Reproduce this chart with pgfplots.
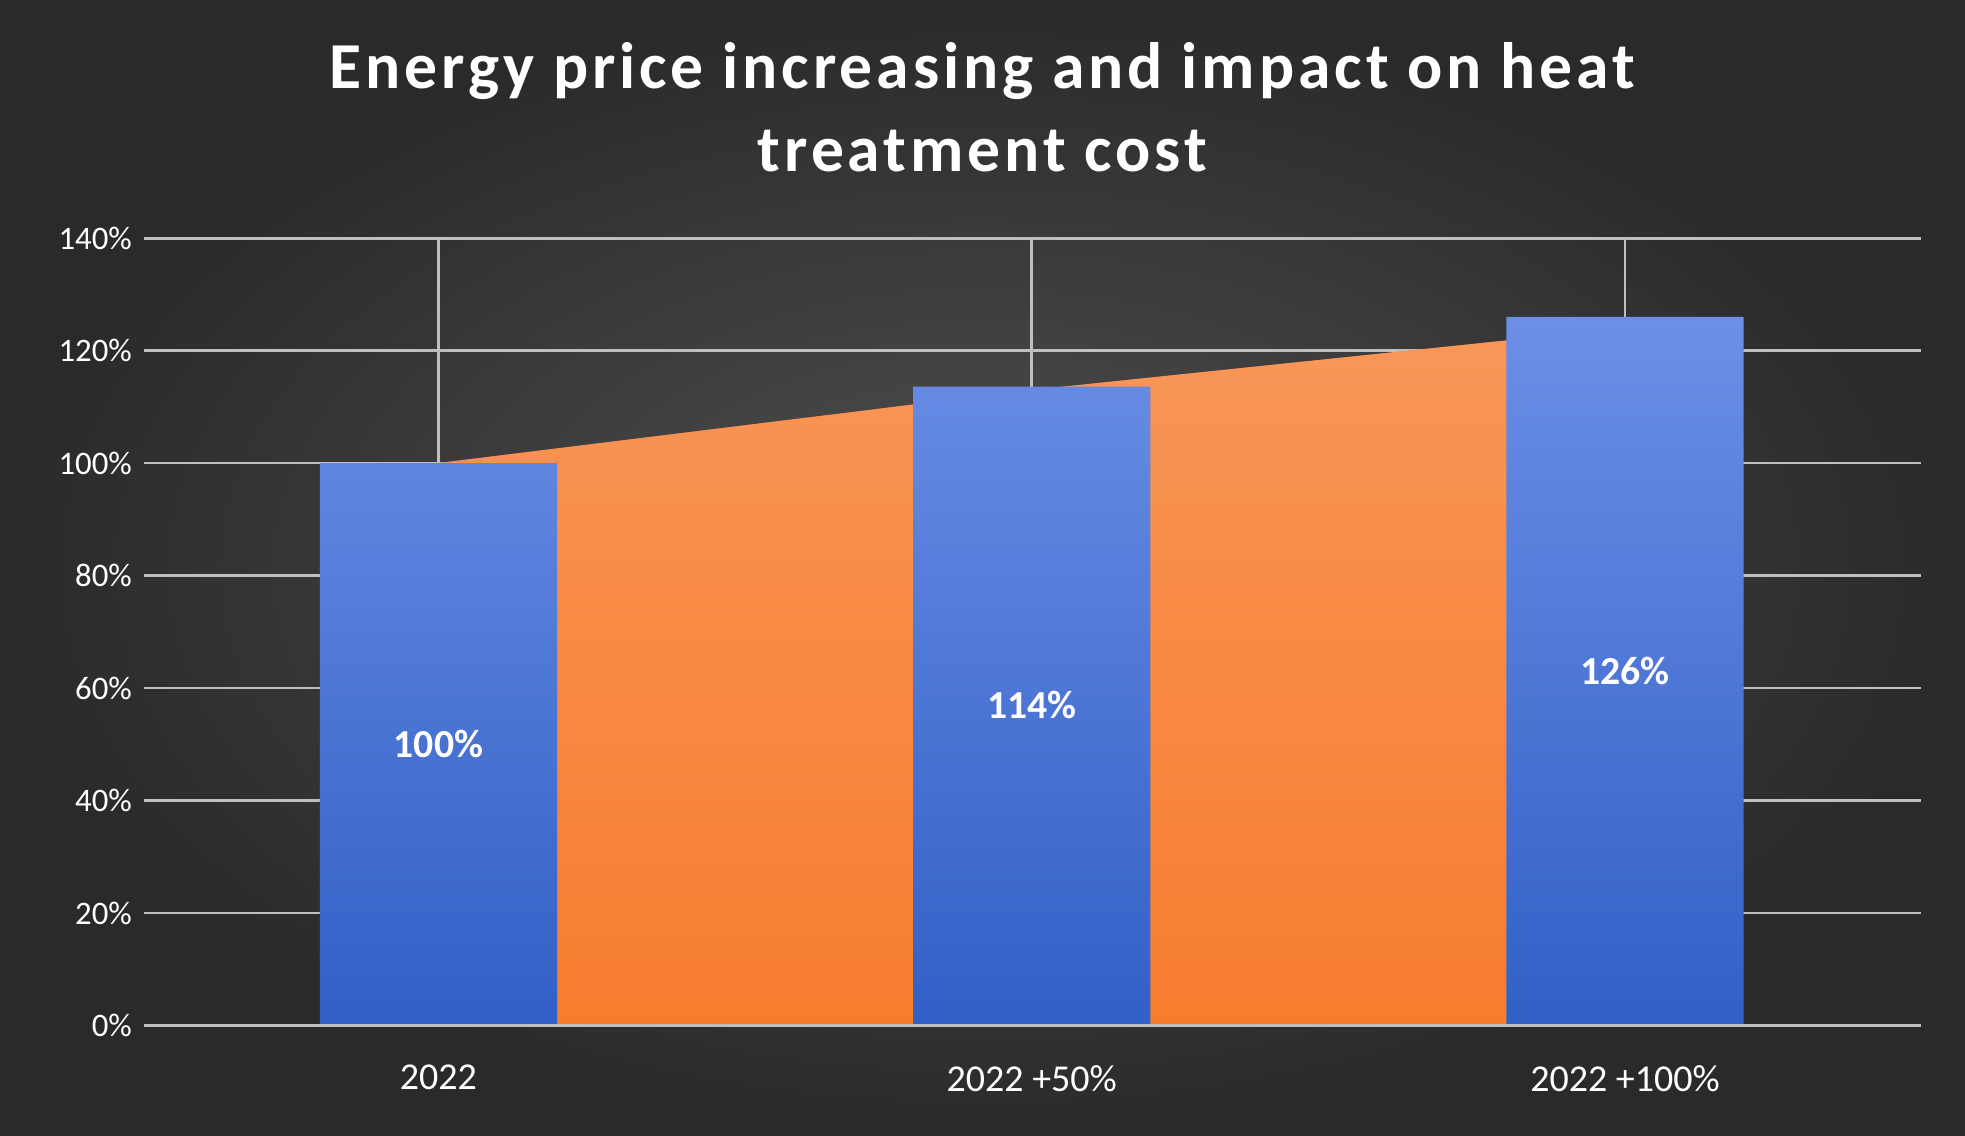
\documentclass[border=0pt]{standalone}
\usepackage{pgfplots}
\pgfplotsset{compat=1.18}
\usepackage{fontspec}
\setmainfont{Carlito}
\definecolor{bg}{HTML}{2A2A2A}
\definecolor{bgc}{HTML}{505050}
\definecolor{grid}{HTML}{5C5C5C}
\definecolor{orangeA}{HTML}{F77C2E}
\definecolor{barT}{HTML}{6C8FE6}
\definecolor{barB}{HTML}{3160C6}
\begin{document}
\begin{tikzpicture}
\useasboundingbox (0,0) rectangle (20,11.56);
\shade[inner color=bgc, outer color=bg] (0,0) rectangle (20,11.56);
\node[text=white, font=\fontsize{19}{24}\selectfont\bfseries\addfontfeature{LetterSpace=6}, align=center] at (10,10.47) {Energy price increasing and impact on heat\\treatment cost};
\begin{axis}[
  at={(1.467cm,1.123cm)}, anchor=south west,
  scale only axis, width=18.08cm, height=8.013cm,
  xmin=-0.496, xmax=2.498, ymin=0, ymax=140,
  axis line style={draw=none},
  ytick={0,20,...,140}, yticklabel={\pgfmathprintnumber{\tick}\%},
  ymajorgrids, grid style={grid, line width=0.8pt},
  xtick={0,1,2}, xticklabels={2022,2022 +50\%,2022 +100\%},
  tick style={draw=none},
  yticklabel style={text=white, font=\fontsize{9.5}{11}\selectfont},
  xticklabel style={text=white, font=\fontsize{11}{13}\selectfont, yshift=-8pt},
  /pgf/number format/assume math mode=true,
  clip=false,
]
\addplot[draw=none, top color=orangeA!80!white, bottom color=orangeA, fill=orangeA] coordinates {(0,100) (1,113) (2,124)} \closedcycle;
\addplot[ybar, bar width=0.4, draw=none, top color=barT, bottom color=barB] coordinates {(0,100) (1,113.6) (2,126)};
\draw[color=white!75!black, line width=1pt] (axis cs:-0.496,0) -- (axis cs:2.498,0);
\addplot[only marks, mark=none, nodes near coords, point meta=explicit symbolic,
  every node near coord/.append style={anchor=center, text=white, font=\fontsize{11.5}{14}\selectfont\bfseries}]
  coordinates {(0,50)[100\%] (1,57)[114\%] (2,63)[126\%]};
\end{axis}
\end{tikzpicture}
\end{document}
